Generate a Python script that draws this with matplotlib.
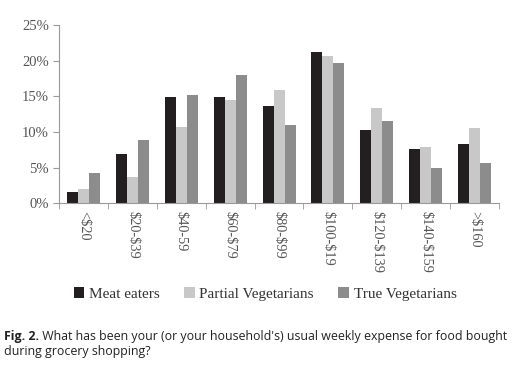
import matplotlib.pyplot as plt
import numpy as np

categories = ['<$20', '$20-$39', '$40-59', '$60-$79', '$80-$99',
              '$100-$19', '$120-$139', '$140-$159', '>$160']
meat_eaters = [1.5, 6.9, 14.9, 14.9, 13.7, 21.2, 10.2, 7.6, 8.3]
partial_veg = [2.0, 3.7, 10.7, 14.5, 15.9, 20.6, 13.3, 7.9, 10.6]
true_veg = [4.3, 8.8, 15.2, 18.0, 11.0, 19.7, 11.5, 4.9, 5.6]
series_names = ['Meat eaters', 'Partial Vegetarians', 'True Vegetarians']
colors = ['#231f20', '#c8c8c8', '#8c8c8c']

plt.rcParams['font.family'] = ['Liberation Serif', 'DejaVu Serif']
plt.rcParams['text.parse_math'] = False
txt_col = '#555555'

fig = plt.figure(figsize=(5.24, 3.68), dpi=100)
ax = fig.add_axes([0.113, 0.448, 0.839, 0.484])

x = np.arange(len(categories))
w = 0.225
for i, (vals, name) in enumerate(zip([meat_eaters, partial_veg, true_veg], series_names)):
    ax.bar(x + (i - 1) * w, vals, width=w, color=colors[i], label=name)

ax.set_xlim(-0.5, len(categories) - 0.5)
ax.set_ylim(0, 25)
ax.set_yticks(range(0, 26, 5))
ax.set_yticklabels([f'{v}%' for v in range(0, 26, 5)], fontsize=10.5, color=txt_col)
ax.set_xticks(x)
ax.set_xticklabels(categories, rotation=270, fontsize=10.3, color=txt_col, va='top', ha='center')
ax.tick_params(axis='x', length=0, pad=6)
ax.set_xticks(np.arange(-0.5, len(categories), 1), minor=True)
ax.tick_params(axis='x', which='minor', length=4, color='#999999')
ax.tick_params(axis='y', length=4, color='#999999')
for s in ['top', 'right']:
    ax.spines[s].set_visible(False)
for s in ['left', 'bottom']:
    ax.spines[s].set_color('#999999')

ax.legend(loc='center', bbox_to_anchor=(265 / 524, 1 - 294 / 368), bbox_transform=fig.transFigure,
          ncol=3, frameon=False, fontsize=11, handlelength=0.7, handleheight=0.7,
          handletextpad=0.3, columnspacing=1.6, labelcolor='#333333')

cap = fig.text(0.008, 1 - 340 / 368, 'Fig. 2.', fontsize=8.9, fontweight='bold',
               family='Open Sans', color='#222222', va='baseline')
ax.annotate(' What has been your (or your household\'s) usual weekly expense for food bought',
            xy=(1, 0), xycoords=cap, va='bottom', fontsize=8.9, family='Open Sans',
            color='#222222', annotation_clip=False)
fig.text(0.008, 1 - 355 / 368, 'during grocery shopping?', fontsize=8.9, family='Open Sans',
         color='#222222', va='baseline')

fig.savefig('out.png', dpi=100)
